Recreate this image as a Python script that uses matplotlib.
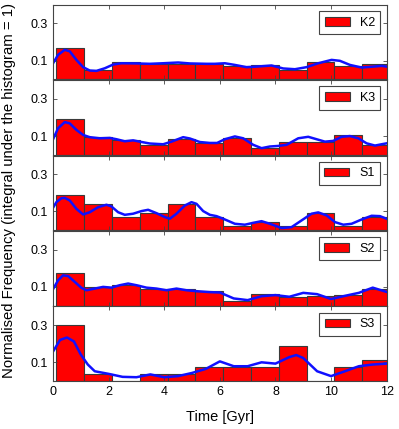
import numpy as np
import matplotlib
matplotlib.use('Agg')
import matplotlib.pyplot as plt

plt.rcParams['font.family'] = ['Liberation Sans', 'DejaVu Sans']

# histogram bins (width 1 Gyr, starting near 0.12)
bin_left = [0.12, 1.12, 2.12, 3.12, 4.12, 5.12, 6.12, 7.12, 8.12, 9.12, 10.12, 11.12]
bin_width = 1.0

names = ['K2', 'K3', 'S1', 'S2', 'S3']

hist_k2 = [0.166, 0.048, 0.093, 0.082, 0.082, 0.082, 0.071, 0.075, 0.050, 0.093, 0.071, 0.082]
hist_k3 = [0.191, 0.097, 0.078, 0.053, 0.083, 0.062, 0.092, 0.035, 0.069, 0.069, 0.108, 0.053]
hist_s1 = [0.188, 0.141, 0.068, 0.091, 0.139, 0.068, 0.020, 0.043, 0.020, 0.091, 0.020, 0.068]
hist_s2 = [0.174, 0.100, 0.109, 0.088, 0.091, 0.079, 0.027, 0.063, 0.045, 0.050, 0.054, 0.089]
hist_s3 = [0.298, 0.036, 0.0, 0.036, 0.036, 0.073, 0.073, 0.073, 0.185, 0.0, 0.073, 0.110]

# smoothed density curves
t_k2 = [0, 0.18, 0.42, 0.6, 0.84, 1.08, 1.32, 1.56, 1.86, 2.16, 2.46, 3.0, 3.48, 3.96, 4.5, 4.92,
        5.52, 5.82, 6.18, 6.54, 6.96, 7.32, 7.86, 8.28, 8.7, 9.12, 9.54, 10.02, 10.32, 10.68,
        11.1, 11.52, 11.82, 12.0]
kde_k2 = [0.086, 0.131, 0.158, 0.150, 0.104, 0.065, 0.047, 0.045, 0.059, 0.079, 0.086, 0.085,
          0.083, 0.086, 0.090, 0.085, 0.083, 0.083, 0.086, 0.077, 0.065, 0.068, 0.074, 0.058,
          0.054, 0.065, 0.086, 0.104, 0.099, 0.077, 0.063, 0.068, 0.072, 0.068]

t_k3 = [0, 0.18, 0.42, 0.6, 0.84, 1.08, 1.32, 1.68, 2.04, 2.28, 2.58, 2.88, 3.12, 3.48, 3.96,
        4.26, 4.68, 4.92, 5.28, 5.64, 5.9, 6.18, 6.54, 6.84, 7.2, 7.5, 7.8, 8.1, 8.4, 8.82, 9.18,
        9.48, 9.78, 10.08, 10.38, 10.68, 10.98, 11.28, 11.58, 11.82, 12.0]
kde_k3 = [0.083, 0.142, 0.175, 0.168, 0.133, 0.106, 0.094, 0.088, 0.090, 0.083, 0.072, 0.077,
          0.070, 0.060, 0.056, 0.070, 0.094, 0.087, 0.068, 0.063, 0.063, 0.083, 0.098, 0.088,
          0.053, 0.035, 0.044, 0.047, 0.053, 0.088, 0.096, 0.083, 0.070, 0.074, 0.096, 0.100,
          0.088, 0.061, 0.049, 0.056, 0.061]

t_s1 = [0, 0.12, 0.3, 0.42, 0.6, 0.84, 1.08, 1.32, 1.62, 1.92, 2.1, 2.34, 2.58, 2.88, 3.18,
        3.42, 3.72, 4.02, 4.2, 4.44, 4.74, 4.98, 5.16, 5.4, 5.64, 5.88, 6.12, 6.54, 6.9, 7.2, 7.5,
        7.8, 8.22, 8.58, 8.94, 9.3, 9.54, 9.84, 10.14, 10.44, 10.74, 11.1, 11.46, 11.76, 12.0]
kde_s1 = [0.120, 0.150, 0.171, 0.173, 0.159, 0.114, 0.084, 0.096, 0.123, 0.136, 0.127, 0.096,
          0.082, 0.088, 0.102, 0.109, 0.091, 0.070, 0.061, 0.088, 0.132, 0.150, 0.141, 0.102,
          0.082, 0.075, 0.061, 0.034, 0.029, 0.039, 0.048, 0.034, 0.011, 0.016, 0.052, 0.088,
          0.095, 0.079, 0.043, 0.029, 0.034, 0.057, 0.077, 0.075, 0.061]

t_s2 = [0, 0.18, 0.36, 0.54, 0.78, 1.02, 1.2, 1.5, 1.8, 2.1, 2.4, 2.7, 3.0, 3.36, 3.72, 4.08,
        4.44, 4.8, 5.16, 5.64, 6.0, 6.5, 7, 7.5, 8, 8.5, 9, 9.5, 10, 10.5, 11, 11.5, 12]
kde_s2 = [0.088, 0.135, 0.162, 0.158, 0.127, 0.095, 0.082, 0.091, 0.100, 0.096, 0.109, 0.118,
          0.109, 0.096, 0.091, 0.082, 0.091, 0.082, 0.077, 0.072, 0.070, 0.038, 0.029, 0.050,
          0.056, 0.047, 0.068, 0.061, 0.035, 0.052, 0.068, 0.096, 0.073]

t_s3 = [0, 0.25, 0.5, 0.75, 1.0, 1.25, 1.5, 2, 2.5, 3, 3.5, 4, 4.5, 5, 5.5, 6, 6.5, 7, 7.5, 8,
        8.5, 8.75, 9, 9.5, 10, 10.5, 11, 11.5, 12]
kde_s3 = [0.158, 0.220, 0.233, 0.212, 0.141, 0.088, 0.052, 0.038, 0.022, 0.020, 0.035, 0.020, 0.026,
          0.043, 0.065, 0.105, 0.079, 0.079, 0.100, 0.093, 0.128, 0.139, 0.123, 0.052, 0.026, 0.052,
          0.079, 0.088, 0.093]

hists = [hist_k2, hist_k3, hist_s1, hist_s2, hist_s3]
curves = [(t_k2, kde_k2), (t_k3, kde_k3), (t_s1, kde_s1), (t_s2, kde_s2), (t_s3, kde_s3)]

fig = plt.figure(figsize=(3.99, 4.29), dpi=100)
left, right = 0.133, 0.969
bottom, top = 0.112, 0.991
h = (top - bottom) / 5

for i in range(5):
    ax = fig.add_axes([left, top - (i + 1) * h, right - left, h - 0.002])
    ax.bar(bin_left, hists[i], width=bin_width, align='edge', color='#ff0000',
           edgecolor='#3a3a3a', linewidth=0.8, label=names[i])
    ax.plot(curves[i][0], curves[i][1], color='#1010ff', linewidth=1.8,
            solid_joinstyle='round')
    ax.set_xlim(0, 12)
    ax.set_ylim(0, 0.4)
    ax.set_yticks([0.1, 0.3])
    ax.set_yticklabels(['0.1', '0.3'])
    ax.set_xticks(range(0, 13, 2))
    ax.tick_params(direction='in', top=True, right=True, length=3, width=0.6,
                   labelsize=9, color='#444444')
    if i < 4:
        ax.set_xticklabels([])
    for sp in ax.spines.values():
        sp.set_color('#444444')
        sp.set_linewidth(0.8)
    leg = ax.legend(loc='upper right', fontsize=9, fancybox=False, framealpha=1,
                    handlelength=2.0, handleheight=0.7, handletextpad=0.8,
                    borderpad=0.45, borderaxespad=0.5)
    leg.get_frame().set_edgecolor('#444444')
    leg.get_frame().set_linewidth(0.8)
    if i == 4:
        ax.set_xlabel('Time [Gyr]', fontsize=10.5, labelpad=9)

fig.text(0.023, (top + bottom) / 2 + 0.005,
         'Normalised Frequency (integral under the histogram = 1)',
         rotation=90, ha='center', va='center', fontsize=10.7)

plt.savefig('out.png', dpi=100)
